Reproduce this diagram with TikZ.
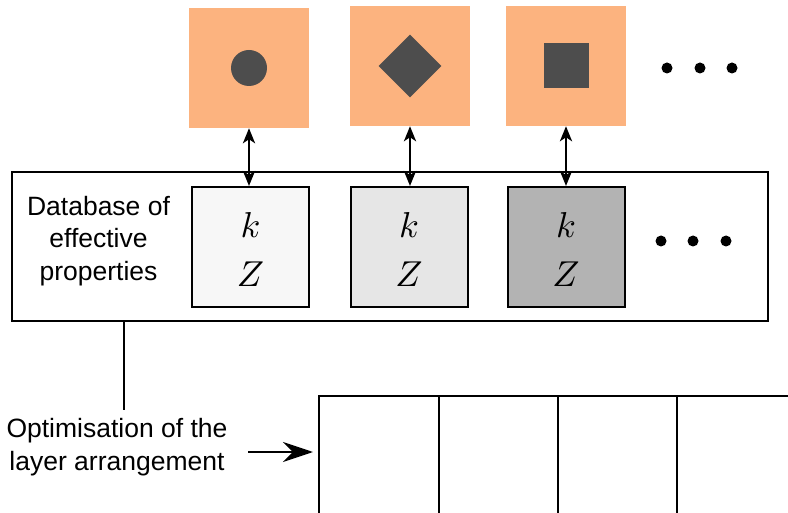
\documentclass[tikz,border=0pt]{standalone}
\usepackage{fontspec}
\setmainfont{Liberation Sans}
\usetikzlibrary{shapes.geometric,arrows.meta}
\definecolor{orangefill}{RGB}{252,179,127}
\definecolor{darkshape}{RGB}{77,77,77}
\definecolor{propA}{RGB}{247,247,247}
\definecolor{propB}{RGB}{230,230,230}
\definecolor{propC}{RGB}{179,179,179}
\newcommand{\bigmath}[1]{\scalebox{3.6}{$#1$}}
\tikzset{
  matbox/.style={fill=orangefill, minimum size=120pt, inner sep=0pt, draw=none},
  propbox/.style={draw=black, line width=2pt, minimum width=117pt, minimum height=120pt, inner sep=0pt},
  dbbox/.style={draw=black, line width=2pt, minimum width=756pt, minimum height=149pt, inner sep=0pt},
  label/.style={font=\fontsize{26.5}{32.5}\selectfont, align=center, inner sep=0pt},
  mathtxt/.style={inner sep=0pt, anchor=base},
  dot/.style={circle, fill=black, minimum size=11pt, inner sep=0pt},
  link/.style={line width=2.8pt, {Stealth[length=15pt,width=12pt,inset=4pt]}-{Stealth[length=15pt,width=12pt,inset=4pt]}},
  flow/.style={line width=2pt, -{Stealth[length=30pt,width=20pt,inset=10pt]}},
  layer/.style={line width=2pt}
}
\begin{document}
\begin{tikzpicture}[x=1pt,y=-1pt]
\useasboundingbox (0,0) rectangle (788,513);
% material squares
\node[matbox] (m1) at (249,68) {};
\node[matbox] (m2) at (410,66) {};
\node[matbox] (m3) at (566,66) {};
\node[circle, fill=darkshape, minimum size=36pt, inner sep=0pt] (s1) at (m1) {};
\node[diamond, fill=darkshape, minimum size=63pt, inner sep=0pt] (s2) at (m2) {};
\node[rectangle, fill=darkshape, minimum size=45pt, inner sep=0pt] (s3) at (m3) {};
\node[dot] (d1) at (667,68) {};
\node[dot] (d2) at (700,68) {};
\node[dot] (d3) at (732,68) {};
% database
\node[dbbox] (db) at (390,246.5) {};
\node[propbox, fill=propA] (p1) at (250.5,247) {};
\node[propbox, fill=propB] (p2) at (409,247) {};
\node[propbox, fill=propC] (p3) at (566,247) {};
\coordinate (kline) at (0,238);
\coordinate (zline) at (0,287);
\foreach \i in {1,2,3}{
  \node[mathtxt] (k\i) at (p\i.center |- kline) {\bigmath{k}};
  \node[mathtxt] (z\i) at (p\i.center |- zline) {\bigmath{Z}};
}
\node[label] (dbl) at (98.5,241) {Database of\\effective\\properties};
\node[dot] (e1) at (661,241) {};
\node[dot] (e2) at (693,241) {};
\node[dot] (e3) at (726,241) {};
% links
\draw[link] (m1.south -| s1) -- (p1.north -| s1);
\draw[link] (m2.south -| s2) -- (p2.north -| s2);
\draw[link] (m3.south -| s3) -- (p3.north -| s3);
% optimisation
\node[label] (opt) at (117,447) {Optimisation of the\\layer arrangement};
\coordinate (dbfoot) at (124,321);
\coordinate (linefoot) at (124,410);
\draw[line width=1.5pt] (db.south -| dbfoot) -- (linefoot);
% layer arrangement
\coordinate (L0) at (319,513);
\coordinate (L0t) at (319,396);
\coordinate (Lr) at (788,396);
\draw[layer] (L0) -- (L0t) -- (Lr);
\foreach \x in {439,558,677}{
  \draw[layer] (\x,396) -- (\x,513);
}
\coordinate (arrowstart) at (248,452);
\draw[flow] (arrowstart) -- ([xshift=-6pt]arrowstart -| L0t);
\end{tikzpicture}
\end{document}
